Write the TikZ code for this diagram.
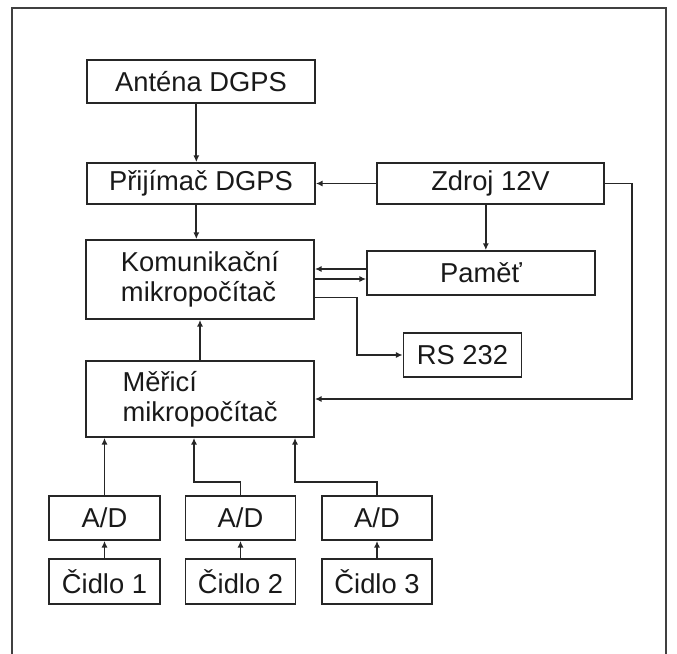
\documentclass[tikz,border=0pt]{standalone}
\usepackage{fontspec}
\setmainfont{Liberation Sans}
\usetikzlibrary{arrows.meta}
\begin{document}
\begin{tikzpicture}[x=0.75pt,y=-0.75pt,
  box/.style={draw=black!85,line width=1.3pt,inner sep=0pt,font=\fontsize{20.5}{22.5}\selectfont,text=black!90},
  arr/.style={draw=black!85,line width=1.3pt,-{Latex[length=5pt,width=4.5pt]}},
  frame/.style={draw=black!75,line width=1.5pt}]
\useasboundingbox (0,0) rectangle (677,653);
\draw[frame] (12,670) -- (12,8) -- (666,8) -- (666,670);
\node[box,minimum width=228*0.75pt,minimum height=43*0.75pt] (ant) at (201,81.5) {Anténa DGPS};
\node[box,minimum width=228*0.75pt,minimum height=41*0.75pt] (prij) at (201,183.5) {Přijímač DGPS};
\node[box,minimum width=227*0.75pt,minimum height=41*0.75pt] (zdroj) at (490.5,183.5) {Zdroj 12V};
\node[box,minimum width=228*0.75pt,minimum height=79*0.75pt,align=left] (kom) at (200,279.5) {Komunikační\\mikropočítač};
\node[box,minimum width=228*0.75pt,minimum height=44*0.75pt] (pam) at (481,273) {Paměť};
\node[box,minimum width=118*0.75pt,minimum height=44*0.75pt] (rs) at (462.5,355) {RS 232};
\node[box,minimum width=228*0.75pt,minimum height=76*0.75pt,align=left] (mer) at (200,399) {Měřicí\\mikropočítač};
\node[box,minimum width=111*0.75pt,minimum height=44*0.75pt] (ad1) at (104.5,518) {A/D};
\node[box,minimum width=110*0.75pt,minimum height=44*0.75pt] (ad2) at (240.5,518) {A/D};
\node[box,minimum width=110*0.75pt,minimum height=44*0.75pt] (ad3) at (377,518) {A/D};
\node[box,minimum width=111*0.75pt,minimum height=45*0.75pt] (c1) at (104.5,581.5) {Čidlo 1};
\node[box,minimum width=110*0.75pt,minimum height=45*0.75pt] (c2) at (240.5,581.5) {Čidlo 2};
\node[box,minimum width=110*0.75pt,minimum height=45*0.75pt] (c3) at (377,581.5) {Čidlo 3};
% connectors
\draw[arr] ([xshift=-3.5pt]ant.south) -- ([xshift=-3.5pt]prij.north);
\draw[arr] (zdroj.west) -- (prij.east);
\draw[arr] ([xshift=-3.5pt]prij.south) -- ([xshift=-3.5pt]prij.south |- kom.north);
\draw[arr] ([xshift=-3.5pt]zdroj.south) -- ([xshift=-3.5pt]zdroj.south |- pam.north);
\draw[arr] ([yshift=3pt]pam.west) -- ([yshift=3pt]pam.west -| kom.east);
\draw[arr] ([yshift=-4.5pt]pam.west -| kom.east) -- ([yshift=-4.5pt]pam.west);
\draw[arr] ([yshift=-13.5pt]kom.east) -| ([xshift=-34.5pt]rs.west) -- (rs.west);
\draw[arr] (mer.north) -- (kom.south);
\draw[arr] (zdroj.east) -- ++(27,0) |- (mer.east);
\draw[arr] (ad1.north) -- (ad1.north |- mer.south);
\draw[arr] (ad2.north) -- ++(0,-13) -| ([xshift=-4.5pt]mer.south);
\draw[arr] (ad3.north) -- ++(0,-13) -| ([xshift=71.25pt]mer.south);
\draw[arr] (c1.north) -- (ad1.south);
\draw[arr] (c2.north) -- (ad2.south);
\draw[arr] (c3.north) -- (ad3.south);
\end{tikzpicture}
\end{document}
